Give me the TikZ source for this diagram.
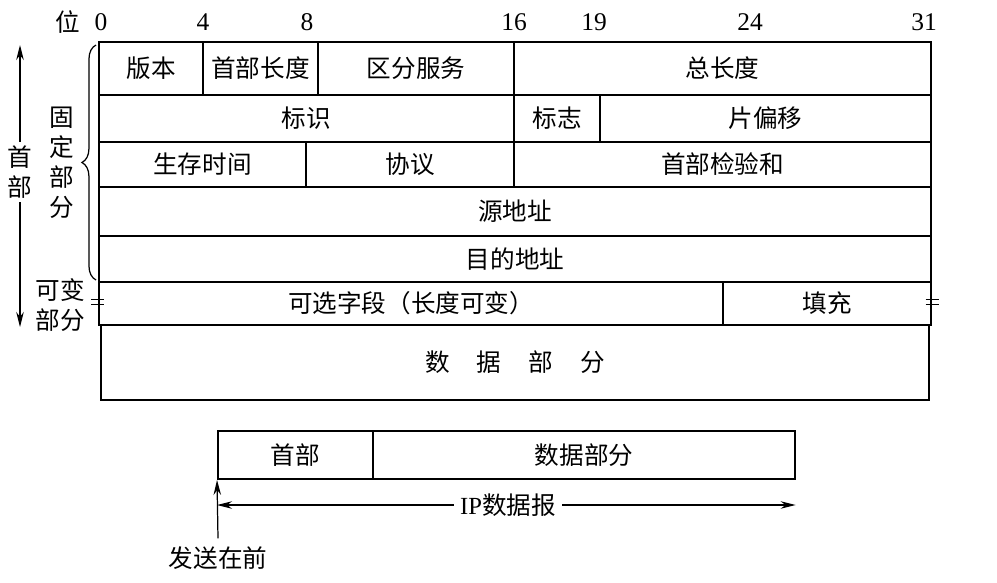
\documentclass[tikz,border=0pt]{standalone}
\usepackage{fontspec}
\setmainfont{Liberation Serif}
\newfontfamily\cjk{Noto Sans CJK SC}
\usetikzlibrary{arrows.meta, fit, decorations.pathreplacing, calc}

\begin{document}
\begin{tikzpicture}[
  x=0.02cm, y=-0.02cm, >=Stealth,
  font=\fontsize{14}{16}\selectfont\cjk,
  field/.style={draw, line width=0.7pt, inner sep=0pt},
  frame/.style={draw, line width=1.4pt, inner sep=0pt},
  num/.style={font=\fontsize{14.5}{16}\selectfont\rmfamily},
  side/.style={align=center, inner sep=2pt, font=\fontsize{14}{17}\selectfont\cjk},
  arr/.style={-{Stealth[length=3mm, width=1.5mm]}, line width=0.7pt},
  brk/.style={line width=1pt},
]
\useasboundingbox (0,0) rectangle (997,582);

% ---- bit numbers ----
\node (bitlbl) at (68,22) {位};
\foreach \b/\x in {0/101, 4/203, 8/307, 16/514, 19/594, 24/750, 31/924}
  \node[num] (b\b) at (\x,22) {\b};

% ---- header fields, row by row ----
\node[field, fit={(99,42)(203,95)},   label=center:版本]     (ver)  {};
\node[field, fit={(203,42)(318,95)},  label=center:首部长度] (ihl)  {};
\node[field, fit={(318,42)(514,95)},  label=center:区分服务] (tos)  {};
\node[field, fit={(514,42)(931,95)},  label=center:总长度]   (tlen) {};

\node[field, fit={(99,95)(514,142)},  label=center:标识]   (ident) {};
\node[field, fit={(514,95)(600,142)}, label=center:标志]   (flags) {};
\node[field, fit={(600,95)(931,142)}, label=center:片偏移] (foff)  {};

\node[field, fit={(99,142)(306,187)},  label=center:生存时间]   (ttl)   {};
\node[field, fit={(306,142)(514,187)}, label=center:协议]       (proto) {};
\node[field, fit={(514,142)(931,187)}, label=center:首部检验和] (csum)  {};

\node[field, fit={(99,187)(931,236)}, label=center:源地址]   (src) {};
\node[field, fit={(99,236)(931,282)}, label=center:目的地址] (dst) {};

\node[field, fit={(99,282)(723,325)},  label=center:{可选字段（长度可变）}] (opt) {};
\node[field, fit={(723,282)(931,325)}, label=center:填充] (pad) {};

\node[frame, fit={(99,42)(931,325)}] (hdrbox) {};

% ---- data part ----
\node[field, line width=0.6pt, fit={(101,325)(929,400)},
      label=center:{数\hspace{1.1em}据\hspace{1.1em}部\hspace{1.1em}分}] (data) {};

% ---- break marks on the variable row ----
\foreach \d in {-4,1} {
  \draw[brk] ($(opt.west)+(-7,\d)$) -- +(13,0);
  \draw[brk] ($(pad.east)+(-6,\d)$) -- +(13,0);
}

% ---- left side labels ----
\draw[decorate, decoration={brace, amplitude=8pt}, line width=0.7pt]
  (96,280) -- (96,45);
\node[side] (fixd) at (62,163) {固\\定\\部\\分};
\node[side] (varp) at (60,305) {可变\\部分};

\coordinate (htop) at (20,45);
\coordinate (hbot) at (20,327);
\node[side] (hdr) at (20,172) {首\\部};
\draw[arr] (hdr.north) -- (htop);
\draw[arr] (hdr.south) -- (hbot);

% ---- datagram below ----
\node[field, fit={(373,431)(795,479)}, label=center:数据部分] (pdata) {};
\node[frame, line width=1.1pt, fit={(218,431)(373,479)}, label=center:首部] (phead) {};

\node (iplab) at (508,505) {{\rmfamily IP}数据报};
\draw[arr] (iplab.west) -- (iplab.west -| phead.west);
\draw[arr] (iplab.east) -- (iplab.east -| pdata.east);

\node[inner sep=1pt] (send) at (218,558) {发送在前};
\draw[arr] ($(send.north)+(0,-6)$) -- (phead.south west);

\end{tikzpicture}
\end{document}
